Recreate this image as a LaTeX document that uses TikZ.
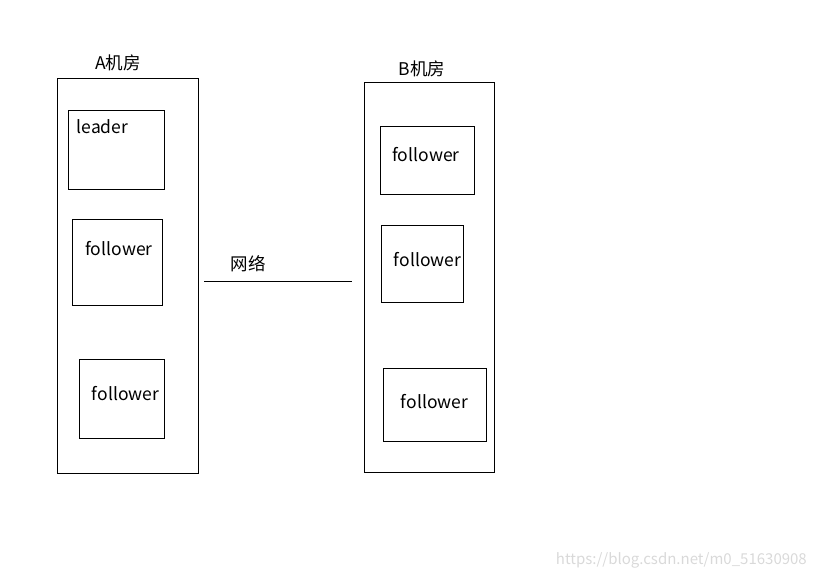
\documentclass[tikz,border=0pt]{standalone}
\usepackage{fontspec}
\setmainfont{Noto Sans CJK SC}
\usetikzlibrary{positioning}
\begin{document}
\begin{tikzpicture}[x=1pt,y=-1pt,
  box/.style={draw=black,line width=1pt,inner sep=0pt,fill=none},
  txt/.style={font=\fontsize{17.5}{20}\selectfont,inner sep=0pt,text=black},
  wm/.style={font=\fontsize{15}{17}\selectfont,inner sep=0pt,text=black!15}]
\useasboundingbox (0,0) rectangle (816,579);
% room A
\node[box,minimum width=141pt,minimum height=395pt] (A) at (128,276) {};
\node[txt] (Alab) at (118,63) {A机房};
\node[box,minimum width=96pt,minimum height=79pt] (lead) at (116.5,150) {};
\node[txt,anchor=west] (leadt) at (76.5,126.5) {leader};
\node[box,minimum width=90pt,minimum height=86pt] (A1) at (117.5,262.5) {};
\node[txt] (A1t) at (119,249) {follower};
\node[box,minimum width=85pt,minimum height=79pt] (A2) at (122,399) {};
\node[txt] (A2t) at (125.5,394) {follower};
% room B
\node[box,minimum width=130pt,minimum height=390pt] (B) at (429.5,277.5) {};
\node[txt] (Blab) at (422,69) {B机房};
\node[box,minimum width=94pt,minimum height=68pt] (B1) at (427.5,160.5) {};
\node[txt] (B1t) at (426,154.5) {follower};
\node[box,minimum width=82pt,minimum height=77pt] (B2) at (422.5,264) {};
\node[txt] (B2t) at (427.5,260) {follower};
\node[box,minimum width=103pt,minimum height=73pt] (B3) at (435,405) {};
\node[txt] (B3t) at (434.5,401.5) {follower};
% network
\coordinate (n1) at (204,281.5);
\coordinate (n2) at (352,281.5);
\draw[line width=1pt] (n1) -- (n2);
\node[txt] (net) at (248,264) {网络};
% watermark
\node[wm,anchor=east] (wmk) at (807,560) {https://blog.csdn.net/m0\_51630908};
\end{tikzpicture}
\end{document}
